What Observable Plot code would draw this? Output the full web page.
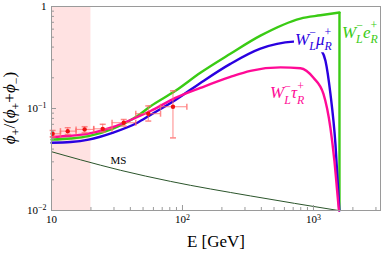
<!DOCTYPE html>
<html>
<head>
<meta charset="utf-8">
<script src="https://cdn.jsdelivr.net/npm/d3@7"></script>
<script src="https://cdn.jsdelivr.net/npm/@observablehq/plot@0.6"></script>
<style>
html,body{margin:0;padding:0;background:#fff;}
#chart svg{display:block;}
#chart svg text{font-family:"Liberation Serif","Times New Roman",serif;}
</style>
</head>
<body>
<div id="chart"></div>
<script>
// ---------------- data ----------------
const shadeRange = [10, 20];

const eRightE = [10, 14, 19.2, 29.2, 45.3, 57, 88.4, 137, 232, 394, 796, 1131, 1580];
const eRightV = [0.0495, 0.0508, 0.0536, 0.0632, 0.0844, 0.105, 0.149, 0.224, 0.344, 0.518, 0.762, 0.82, 0.873];

const muRightE = [10, 14, 19.2, 29.2, 45.3, 57, 88.4, 137, 232, 394, 703, 850, 1036, 1131, 1235, 1348, 1472, 1552, 1575];
const muRightV = [0.0462, 0.047, 0.0496, 0.0578, 0.0725, 0.0864, 0.121, 0.178, 0.274, 0.386, 0.452, 0.455, 0.432, 0.386, 0.294, 0.139, 0.0447, 0.0144, 0.01];

const tauRightE = [10, 14, 19.2, 29.2, 45.3, 57, 88.4, 137, 232, 330, 560, 796, 1000, 1192, 1348, 1446, 1525, 1565];
const tauRightV = [0.0525, 0.054, 0.0567, 0.0655, 0.0825, 0.0945, 0.127, 0.159, 0.204, 0.234, 0.253, 0.248, 0.200, 0.139, 0.0642, 0.0304, 0.0144, 0.01];

const msE = [10, 16.65, 33.6, 80.9, 330, 1552];
const msV = [0.0377, 0.0314, 0.0248, 0.0193, 0.0139, 0.01];

const dataE   = [10.2, 13.3, 17.9, 24.6, 35.6, 54.8, 84.6];
const dataV   = [0.0565, 0.0600, 0.0624, 0.0632, 0.0725, 0.0889, 0.104];
const dataElo = [9.0, 11.7, 15.4, 21.0, 29.0, 44.0, 68.0];
const dataEhi = [11.7, 15.4, 21.0, 29.0, 44.0, 68.0, 108];
const dataVlo = [0.0527, 0.0557, 0.0577, 0.0588, 0.0673, 0.0753, 0.0515];
const dataVhi = [0.0609, 0.0648, 0.0663, 0.0700, 0.0780, 0.106, 0.149];

const xMajorTicks = [10, 100, 1000];
const xTickLabels = ["10", "10^2", "10^3"];
const xMinorTicks = [20, 30, 40, 50, 60, 70, 80, 90, 200, 300, 400, 500, 600, 700, 800, 900, 2000, 3000];
const yMajorTicks = [0.01, 0.1, 1];
const yTickLabels = ["10^-2", "10^-1", "1"];
const yMinorTicks = [0.02, 0.03, 0.04, 0.05, 0.06, 0.07, 0.08, 0.09, 0.2, 0.3, 0.4, 0.5, 0.6, 0.7, 0.8, 0.9];

const xTitle = "E [GeV]";
const msLabel = {text: "MS", e: 32.4, v: 0.0311};

// ---------------- build ----------------
const FONT = "Liberation Serif, Times New Roman, serif";
const GREEN = "#3acb14", BLUE = "#2a00e0", MAGENTA = "#ff0a96", MSCOL = "#2b552b";
const ERR = "#ff6a6a", PT = "#ee1111", AXIS = "#9a9a9a";

const toRows = (E, V) => E.map((e, i) => ({e, v: V[i]}));
const green = toRows(eRightE, eRightV);
const blue = toRows(muRightE, muRightV);
const magenta = toRows(tauRightE, tauRightV);
const ms = toRows(msE, msV);
const pts = dataE.map((e, i) => ({e, v: dataV[i], elo: dataElo[i], ehi: dataEhi[i], vlo: dataVlo[i], vhi: dataVhi[i]}));
const lastGreen = green[green.length - 1];

const hCap = {draw(ctx) { ctx.moveTo(-3, 0); ctx.lineTo(3, 0); }};
const vCap = {draw(ctx) { ctx.moveTo(0, -3); ctx.lineTo(0, 3); }};

const plot = Plot.plot({
  width: 382,
  height: 256,
  marginLeft: 51,
  marginRight: 2,
  marginTop: 6,
  marginBottom: 46,
  style: {fontFamily: FONT, background: "#fff", color: "#000"},
  x: {type: "log", domain: [10, 3250]},
  y: {type: "log", domain: [0.01, 1]},
  marks: [
    Plot.rect([shadeRange], {x1: d => d[0], x2: d => d[1], fill: "#ffe2e2"}),
    Plot.line(ms, {x: "e", y: "v", stroke: MSCOL, strokeWidth: 1, curve: "monotone-x"}),
    Plot.text([msLabel], {x: "e", y: "v", text: "text", fontSize: 11, fill: "#000", fontFamily: FONT}),
    Plot.line(green, {x: "e", y: "v", stroke: GREEN, strokeWidth: 2.4, curve: "monotone-x"}),
    Plot.ruleX([lastGreen], {x: "e", y1: yMajorTicks[0], y2: "v", stroke: GREEN, strokeWidth: 2.4}),
    Plot.line(blue, {x: "e", y: "v", stroke: BLUE, strokeWidth: 2.4, curve: "monotone-x"}),
    Plot.line(magenta, {x: "e", y: "v", stroke: MAGENTA, strokeWidth: 2.4, curve: "monotone-x"}),
    // error bars
    Plot.ruleY(pts, {y: "v", x1: "elo", x2: "ehi", stroke: ERR, strokeOpacity: 0.8, strokeWidth: 1, clip: true}),
    Plot.ruleX(pts, {x: "e", y1: "vlo", y2: "vhi", stroke: ERR, strokeOpacity: 0.8, strokeWidth: 1}),
    Plot.dot(pts.filter(d => d.elo >= 10), {x: "elo", y: "v", symbol: vCap, r: 3, stroke: ERR, strokeOpacity: 0.8, fill: "none"}),
    Plot.dot(pts, {x: "ehi", y: "v", symbol: vCap, r: 3, stroke: ERR, strokeOpacity: 0.8, fill: "none"}),
    Plot.dot(pts, {x: "e", y: "vlo", symbol: hCap, r: 3, stroke: ERR, strokeOpacity: 0.8, fill: "none"}),
    Plot.dot(pts, {x: "e", y: "vhi", symbol: hCap, r: 3, stroke: ERR, strokeOpacity: 0.8, fill: "none"}),
    Plot.dot(pts, {x: "e", y: "v", r: 2.2, fill: PT, stroke: "none"}),
    // axes: inward ticks
    Plot.axisX(xMajorTicks, {tickSize: 5, dy: -5, tickFormat: () => "", stroke: AXIS, label: null}),
    Plot.axisX(xMinorTicks, {tickSize: 3, dy: -3, tickFormat: () => "", stroke: AXIS, label: null}),
    Plot.axisX(xMajorTicks, {tickSize: 0, tickPadding: 5, fontSize: 11, fontFamily: FONT, tickFormat: d => xTickLabels[xMajorTicks.indexOf(d)], label: null}),
    Plot.axisY(yMajorTicks, {tickSize: 5, dx: 5, tickFormat: () => "", stroke: AXIS, label: null}),
    Plot.axisY(yMinorTicks, {tickSize: 3, dx: 3, tickFormat: () => "", stroke: AXIS, label: null}),
    Plot.axisY(yMajorTicks, {tickSize: 0, tickPadding: 5, fontSize: 11, fontFamily: FONT, tickFormat: d => yTickLabels[yMajorTicks.indexOf(d)], label: null}),
    Plot.frame({stroke: AXIS}),
    Plot.text([xTitle], {frameAnchor: "bottom", dy: 36, fontSize: 17, fill: "#000", fontFamily: FONT})
  ]
});

document.getElementById("chart").appendChild(plot);
const svg = d3.select(plot);

// superscripts in tick labels
svg.selectAll("text").each(function () {
  const s = this.textContent;
  const m = /^10\^(.+)$/.exec(s);
  if (m) {
    const t = d3.select(this);
    t.text("10");
    t.append("tspan").attr("dy", "-0.45em").attr("font-size", "0.72em").text(m[1].replace("-", "\u2212"));
  }
});

const xs = plot.scale("x"), ys = plot.scale("y");

function rich(x, y, size, color, parts, opts = {}) {
  const t = svg.append("text")
    .attr("x", x).attr("y", y)
    .attr("fill", color)
    .attr("font-family", FONT)
    .attr("font-size", size)
    .attr("text-anchor", opts.anchor || "start");
  if (opts.rotate) t.attr("transform", `rotate(${opts.rotate},${x},${y})`);
  for (const p of parts) {
    const s = t.append("tspan").text(p.t);
    if (p.i) s.attr("font-style", "italic");
    if (p.s) s.attr("font-size", p.s);
    if (p.dx != null) s.attr("dx", p.dx);
    if (p.dy != null) s.attr("dy", p.dy);
  }
  if (opts.bg) {
    const b = t.node().getBBox();
    svg.insert("rect", () => t.node())
      .attr("x", b.x - 1).attr("y", b.y + 2).attr("width", b.width + 2).attr("height", b.height - 3)
      .attr("fill", "#fff");
  }
  return t;
}

// W_L^- x_R^+ with stacked sub/superscripts
function wLabel(particle, f) {
  const s = f * 0.7;
  return [
    {t: "W", i: true},
    {t: "L", i: true, s, dy: f * 0.3},
    {t: "\u2212", s, dx: -s * 0.55, dy: -f * 0.82},
    {t: particle, i: true, dy: f * 0.52},
    {t: "R", i: true, s, dy: f * 0.3},
    {t: "+", s, dx: -s * 0.6, dy: -f * 0.82}
  ];
}

const LF = 17;
rich(xs.apply(1664), ys.apply(0.484), LF, GREEN, wLabel("e", LF));
rich(xs.apply(729), ys.apply(0.413), LF, BLUE, wLabel("\u03bc", LF), {bg: true});
rich(xs.apply(470), ys.apply(0.124), LF, MAGENTA, wLabel("\u03c4", LF));

// y-axis title
const YF = 17, ys7 = YF * 0.7;
rich(15, 108, YF, "#000", [
  {t: "\u03d5", i: true},
  {t: "+", s: ys7, dy: YF * 0.3},
  {t: "/(", dy: -YF * 0.3},
  {t: "\u03d5", i: true},
  {t: "+", s: ys7, dy: YF * 0.3},
  {t: "+", dy: -YF * 0.3},
  {t: "\u03d5", i: true},
  {t: "\u2212", s: ys7, dy: YF * 0.3},
  {t: ")", dy: -YF * 0.3}
], {anchor: "middle", rotate: -90});
</script>
</body>
</html>
